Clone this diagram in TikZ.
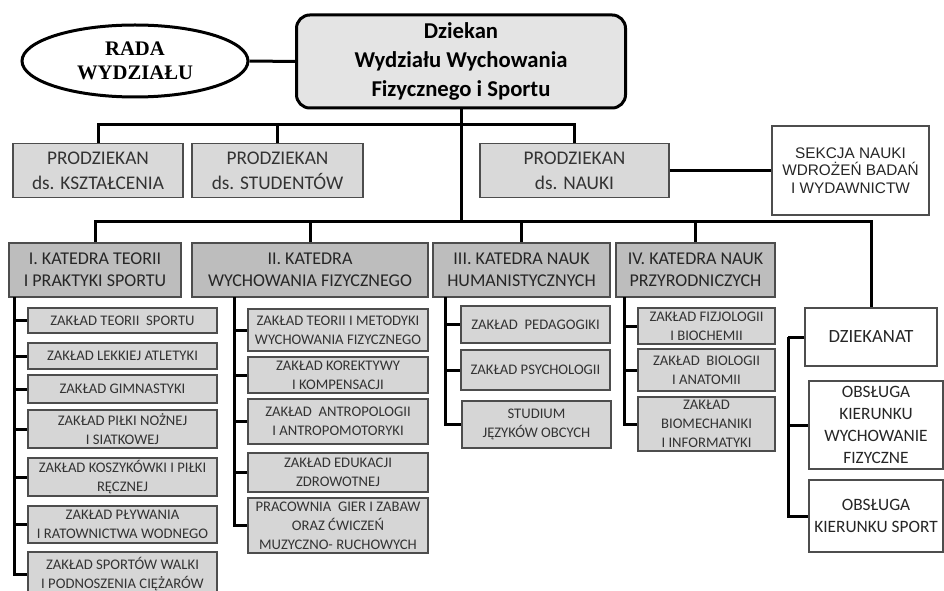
\documentclass[tikz,border=0pt]{standalone}
\usepackage{fontspec}
\setmainfont{Carlito}
\newfontfamily\radafont{Liberation Serif}
\newfontfamily\sekcjafont{Liberation Sans}
\usepackage{tikz}
\usetikzlibrary{shapes.geometric}

\definecolor{deanfill}{HTML}{E4E4E4}
\definecolor{prodfill}{HTML}{D9D9D9}
\definecolor{katfill}{HTML}{BDBDBD}
\definecolor{zakfill}{HTML}{D6D6D6}
\definecolor{edge}{HTML}{4D4D4D}

\tikzset{
  tie/.style={line width=2.25pt, line join=miter},
  radabox/.style={ellipse, draw, line width=2.25pt, fill=white, align=center, inner sep=0pt,
    font=\radafont\bfseries\fontsize{15.5}{18}\selectfont},
  deanbox/.style={rectangle, rounded corners=10pt, draw, line width=2.25pt, fill=deanfill, align=center,
    inner sep=0pt, font=\bfseries\fontsize{17}{21.4}\selectfont},
  prodbox/.style={rectangle, draw=edge, line width=0.8pt, fill=prodfill, align=center, inner sep=0pt,
    minimum height=40.5pt, text=black!80, font=\fontsize{14.5}{18.5}\selectfont},
  katbox/.style={rectangle, draw=edge, line width=1.1pt, fill=katfill, align=center, inner sep=0pt,
    minimum height=40.5pt, text=black!85, font=\fontsize{13.5}{16.5}\selectfont},
  zakbox/.style={rectangle, draw=edge, line width=1pt, fill=zakfill, align=center, inner sep=0pt,
    text=black!80, font=\fontsize{11}{14.2}\selectfont},
  whitebox/.style={rectangle, draw=edge, line width=0.9pt, fill=white, align=center, inner sep=0pt,
    text=black!85, font=\fontsize{13}{16.5}\selectfont}
}

\begin{document}
\begin{tikzpicture}[x=0.75pt,y=0.75pt,yscale=-1,xscale=1]
    \useasboundingbox (0,0) rectangle (944,591);

    %Top: rada, dziekan, prodziekani
    \node [radabox, minimum width=169.5pt, minimum height=54pt] (rada) at (135,61) {RADA\\WYDZIAŁU};
    \node [deanbox, minimum width=246.75pt, minimum height=69.75pt] (dean) at (461,61.5) {Dziekan\\Wydziału Wychowania\\Fizycznego i Sportu};
    \node [prodbox, minimum width=127.5pt] (p1) at (98,170.5) {PRODZIEKAN\\ds. KSZTAŁCENIA};
    \node [prodbox, minimum width=128.25pt] (p2) at (277.5,170.5) {PRODZIEKAN\\ds. STUDENTÓW};
    \node [prodbox, minimum width=141.75pt] (p3) at (574.5,170.5) {PRODZIEKAN\\ds. NAUKI};
    \node [whitebox, minimum width=117.75pt, minimum height=66.75pt, font=\sekcjafont\fontsize{11.5}{13.2}\selectfont] (sekcja) at (850.5,170.5) {SEKCJA NAUKI\\WDROŻEŃ BADAŃ\\I WYDAWNICTW};

    %Katedry and dziekanat
    \node [katbox, minimum width=129pt] (k1) at (95,270) {I. KATEDRA TEORII\\I PRAKTYKI SPORTU};
    \node [katbox, minimum width=177pt] (k2) at (310,270) {II. KATEDRA\\WYCHOWANIA FIZYCZNEGO};
    \node [katbox, minimum width=132.75pt] (k3) at (521.5,270) {III. KATEDRA NAUK\\HUMANISTYCZNYCH};
    \node [katbox, minimum width=119.25pt] (k4) at (695.5,270) {IV. KATEDRA NAUK\\PRZYRODNICZYCH};
    \node [whitebox, minimum width=99pt, minimum height=43.5pt, font=\fontsize{14}{16}\selectfont] (dziek) at (871,337) {DZIEKANAT};
    \node [whitebox, minimum width=100.5pt, minimum height=66pt] (obwf) at (876,425) {OBSŁUGA\\KIERUNKU\\WYCHOWANIE\\FIZYCZNE};
    \node [whitebox, minimum width=100.5pt, minimum height=54pt] (obsp) at (876,516) {OBSŁUGA\\KIERUNKU SPORT};

    %Zaklady katedry I
    \node [zakbox, minimum width=141.75pt, minimum height=18.75pt] (k1z1) at (122.5,320.5) {ZAKŁAD TEORII \ SPORTU};
    \node [zakbox, minimum width=141.75pt, minimum height=19.5pt] (k1z2) at (122.5,356) {ZAKŁAD LEKKIEJ ATLETYKI};
    \node [zakbox, minimum width=141.75pt, minimum height=21pt] (k1z3) at (122.5,389) {ZAKŁAD GIMNASTYKI};
    \node [zakbox, minimum width=141.75pt, minimum height=28.5pt] (k1z4) at (122.5,429) {ZAKŁAD PIŁKI NOŻNEJ\\I SIATKOWEJ};
    \node [zakbox, minimum width=141.75pt, minimum height=28.5pt] (k1z5) at (122.5,477) {ZAKŁAD KOSZYKÓWKI I PIŁKI\\RĘCZNEJ};
    \node [zakbox, minimum width=141.75pt, minimum height=27.75pt] (k1z6) at (122.5,524.5) {ZAKŁAD PŁYWANIA\\I RATOWNICTWA WODNEGO};
    \node [zakbox, minimum width=141.75pt, minimum height=33pt] (k1z7) at (122.5,574) {ZAKŁAD SPORTÓW WALKI\\I PODNOSZENIA CIĘŻARÓW};

    %Zaklady katedry II
    \node [zakbox, minimum width=135pt, minimum height=31.5pt] (k2z1) at (338,330) {ZAKŁAD TEORII I METODYKI\\WYCHOWANIA FIZYCZNEGO};
    \node [zakbox, minimum width=135pt, minimum height=27pt] (k2z2) at (338,375) {ZAKŁAD KOREKTYWY\\I KOMPENSACJI};
    \node [zakbox, minimum width=135pt, minimum height=33.75pt] (k2z3) at (338,421.5) {ZAKŁAD \ ANTROPOLOGII\\I ANTROPOMOTORYKI};
    \node [zakbox, minimum width=135pt, minimum height=29.25pt] (k2z4) at (338,472.5) {ZAKŁAD EDUKACJI\\ZDROWOTNEJ};
    \node [zakbox, minimum width=135pt, minimum height=41.25pt] (k2z5) at (338,525.5) {PRACOWNIA \ GIER I ZABAW\\ORAZ ĆWICZEŃ\\MUZYCZNO- RUCHOWYCH};

    %Zaklady katedry III
    \node [zakbox, minimum width=111.75pt, minimum height=27.75pt] (k3z1) at (535.5,324.5) {ZAKŁAD \ PEDAGOGIKI};
    \node [zakbox, minimum width=111.75pt, minimum height=30pt] (k3z2) at (535.5,370) {ZAKŁAD PSYCHOLOGII};
    \node [zakbox, minimum width=111.75pt, minimum height=35.25pt] (k3z3) at (536.5,424.5) {STUDIUM\\JĘZYKÓW OBCYCH};

    %Zaklady katedry IV
    \node [zakbox, minimum width=102.75pt, minimum height=27pt] (k4z1) at (706.5,326) {ZAKŁAD FIZJOLOGII\\I BIOCHEMII};
    \node [zakbox, minimum width=102.75pt, minimum height=31.5pt] (k4z2) at (706.5,370) {ZAKŁAD \ BIOLOGII\\I ANATOMII};
    \node [zakbox, minimum width=102.75pt, minimum height=40.5pt] (k4z3) at (706.5,424) {ZAKŁAD\\BIOMECHANIKI\\I INFORMATYKI};

    %Junctions
    \coordinate (t1) at (461,125);
    \coordinate (t2) at (461,222);
    \coordinate (s1) at (14,297);
    \coordinate (s2) at (234,297);
    \coordinate (s3) at (445,297);
    \coordinate (s4) at (624,297);
    \coordinate (s5) at (788,337);

    %Connectors
    \draw [tie] (rada.east) -- (dean.west);
    \draw [tie] (dean.south) -- (t2);
    \foreach \n in {p1,p2,p3} \draw [tie] (t1) -| (\n.north);
    \draw [tie] (p3.east) -- (sekcja.west);
    \foreach \n in {k1,k2,k3,k4,dziek} \draw [tie] (t2) -| (\n.north);
    \foreach \n in {1,...,7} \draw [tie] (s1) |- (k1z\n.west);
    \foreach \n in {1,...,5} \draw [tie] (s2) |- (k2z\n.west);
    \foreach \n in {1,2,3} \draw [tie] (s3) |- (k3z\n.west);
    \foreach \n in {1,2,3} \draw [tie] (s4) |- (k4z\n.west);
    \draw [tie] (dziek.west) -- (s5);
    \foreach \n in {obwf,obsp} \draw [tie] (s5) |- (\n.west);
\end{tikzpicture}
\end{document}
